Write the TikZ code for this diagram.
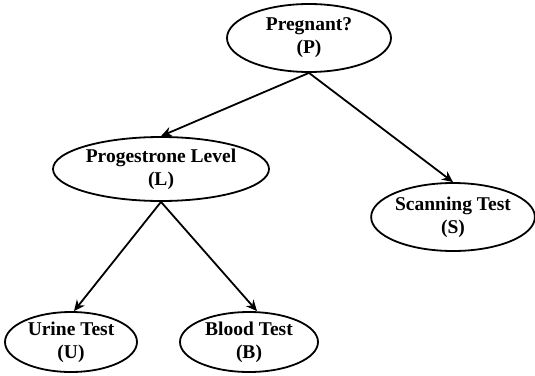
\documentclass[tikz,border=0pt]{standalone}
\usepackage{fontspec}
\setmainfont{Liberation Serif}
\usetikzlibrary{shapes.geometric,arrows.meta}
\begin{document}
\begin{tikzpicture}[x=1pt,y=-1pt]
        \tikzstyle{every node}=[draw,shape=ellipse,line width=1.8pt,inner sep=0pt,align=center,font=\fontsize{19.5}{23}\selectfont\bfseries];
        \useasboundingbox (0,0) rectangle (535,375);
        %\node (name) at (x,y) [minimum width=w,minimum height=h] {text};
        \node (P) at (309,38) [minimum width=164,minimum height=68] {Pregnant?\\(P)};
        \node (L) at (161,169) [minimum width=216,minimum height=64] {Progestrone Level\\(L)};
        \node (S) at (453,217) [minimum width=158,minimum height=68] {Scanning Test\\(S)};
        \node (U) at (71,342) [minimum width=132,minimum height=60] {Urine Test\\(U)};
        \node (B) at (249,342) [minimum width=138,minimum height=60] {Blood Test\\(B)};
        \draw[line width=1.8pt,-{Stealth[length=11pt,width=10pt]}] (P.south)--(L.north);
        \draw[line width=1.8pt,-{Stealth[length=11pt,width=10pt]}] (P.south)--(S.north);
        \draw[line width=1.8pt,-{Stealth[length=11pt,width=10pt]}] (L.south)--([xshift=3]U.north);
        \draw[line width=1.8pt,-{Stealth[length=11pt,width=10pt]}] (L.south)--([xshift=8]B.north);
    \end{tikzpicture}
\end{document}
